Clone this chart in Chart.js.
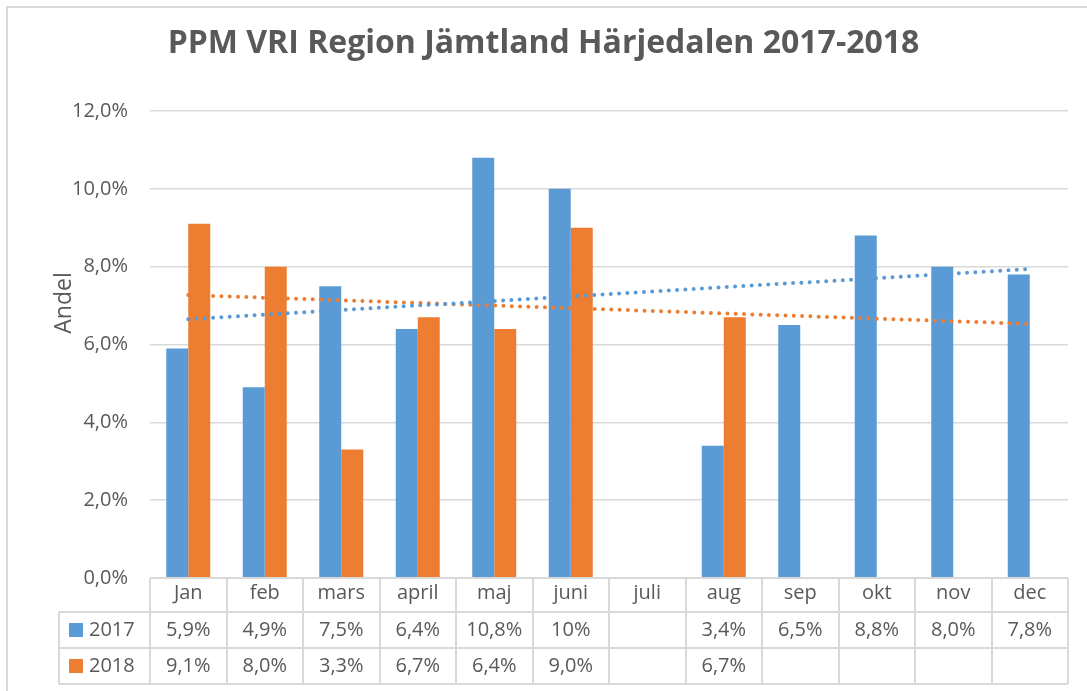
<!DOCTYPE html>
<html>
<head>
<meta charset="utf-8">
<script src="https://cdn.jsdelivr.net/npm/chart.js@4/dist/chart.umd.min.js"></script>
<style>
  body { margin: 0; background: #fff; }
  #wrap { width: 1087px; height: 691px; }
</style>
</head>
<body>
<div id="wrap"><canvas id="chart" width="1087" height="691"></canvas></div>
<script>
const months = ["Jan", "feb", "mars", "april", "maj", "juni", "juli", "aug", "sep", "okt", "nov", "dec"];
const values2017 = [5.9, 4.9, 7.5, 6.4, 10.8, 10, null, 3.4, 6.5, 8.8, 8.0, 7.8];
const values2018 = [9.1, 8.0, 3.3, 6.7, 6.4, 9.0, null, 6.7, null, null, null, null];
// data table text as printed under the chart
const table2017 = ["5,9%", "4,9%", "7,5%", "6,4%", "10,8%", "10%", "", "3,4%", "6,5%", "8,8%", "8,0%", "7,8%"];
const table2018 = ["9,1%", "8,0%", "3,3%", "6,7%", "6,4%", "9,0%", "", "6,7%", "", "", "", ""];
// dotted trend lines, end points
const trend2017 = [6.65, null, null, null, null, null, null, null, null, null, null, 7.94];
const trend2018 = [7.27, null, null, null, null, null, null, null, null, null, null, 6.53];
const seriesNames = ["2017", "2018"];

const BLUE = "#5B9BD5";
const ORANGE = "#ED7D31";
const GREY = "#595959";
const LINE = "#d9d9d9";
const FONT = "'Open Sans', 'Liberation Sans', sans-serif";

Chart.defaults.font.family = FONT;
Chart.defaults.color = GREY;

const pct = v => v.toFixed(1).replace(".", ",") + "%";

const tablePlugin = {
  id: "tablePlugin",
  afterDraw(chart) {
    const ctx = chart.ctx;
    const x = chart.scales.x;
    const area = chart.chartArea;
    const step = x.width / months.length;
    const top = area.bottom;
    const row1 = top + 34;
    const row2 = row1 + 36;
    const bottom = row2 + 36;
    const labelLeft = 59;

    ctx.save();
    // outer frame
    ctx.strokeStyle = LINE;
    ctx.lineWidth = 2;
    ctx.strokeRect(7, 7, 1100, 700);

    // table grid
    ctx.beginPath();
    ctx.moveTo(area.left, top); ctx.lineTo(area.right, top);
    [row1, row2, bottom].forEach(y => { ctx.moveTo(labelLeft, y); ctx.lineTo(area.right, y); });
    ctx.moveTo(labelLeft, row1); ctx.lineTo(labelLeft, bottom);
    for (let i = 0; i <= months.length; i++) {
      const px = Math.round(area.left + i * step);
      ctx.moveTo(px, top); ctx.lineTo(px, bottom);
    }
    ctx.stroke();

    // table values
    ctx.fillStyle = GREY;
    ctx.font = "20px " + FONT;
    ctx.textAlign = "center";
    ctx.textBaseline = "middle";
    months.forEach((m, i) => {
      const cx = x.getPixelForValue(i);
      ctx.fillText(table2017[i], cx, (row1 + row2) / 2);
      ctx.fillText(table2018[i], cx, (row2 + bottom) / 2);
    });

    // series keys
    [[BLUE, row1, row2], [ORANGE, row2, bottom]].forEach(([col, a, b], k) => {
      const cy = (a + b) / 2;
      ctx.fillStyle = col;
      ctx.fillRect(69, cy - 7, 14, 14);
      ctx.fillStyle = GREY;
      ctx.textAlign = "left";
      ctx.fillText(seriesNames[k], 89, cy);
    });

    // y axis title
    ctx.translate(64, 303);
    ctx.rotate(-Math.PI / 2);
    ctx.textAlign = "center";
    ctx.font = "23px " + FONT;
    ctx.fillText("Andel", 0, 0);
    ctx.restore();
  }
};

const trendStyle = {
  type: "line",
  borderWidth: 4,
  borderDash: [0, 8.3],
  borderCapStyle: "round",
  pointRadius: 0,
  spanGaps: true,
  fill: false,
  order: 1
};

new Chart(document.getElementById("chart"), {
  type: "bar",
  data: {
    labels: months,
    datasets: [
      { label: "2017", data: values2017, backgroundColor: BLUE, order: 2 },
      { label: "2018", data: values2018, backgroundColor: ORANGE, order: 2 },
      { ...trendStyle, label: "trend 2017", data: trend2017, borderColor: BLUE },
      { ...trendStyle, label: "trend 2018", data: trend2018, borderColor: ORANGE }
    ]
  },
  options: {
    responsive: false,
    animation: false,
    layout: { padding: { left: 19, right: 19, top: 0, bottom: 0 } },
    datasets: { bar: { categoryPercentage: 0.575, barPercentage: 1 } },
    plugins: {
      legend: { display: false },
      tooltip: { enabled: false },
      title: {
        display: true,
        text: "PPM VRI Region Jämtland Härjedalen 2017-2018",
        color: GREY,
        font: { size: 32, weight: "bold", family: FONT },
        padding: { top: 25, bottom: 47.6 }
      }
    },
    scales: {
      x: {
        grid: { display: false, drawTicks: false },
        border: { display: false },
        ticks: { color: GREY, font: { size: 20 }, padding: 3 },
        afterFit: s => { s.height = 113; }
      },
      y: {
        min: 0,
        max: 12,
        ticks: { stepSize: 2, color: GREY, font: { size: 20 }, padding: 22, callback: v => pct(v) },
        grid: { color: LINE, lineWidth: 1.5, drawTicks: false },
        border: { display: false },
        afterFit: s => { s.width = 131; }
      }
    }
  },
  plugins: [tablePlugin]
});
</script>
</body>
</html>
